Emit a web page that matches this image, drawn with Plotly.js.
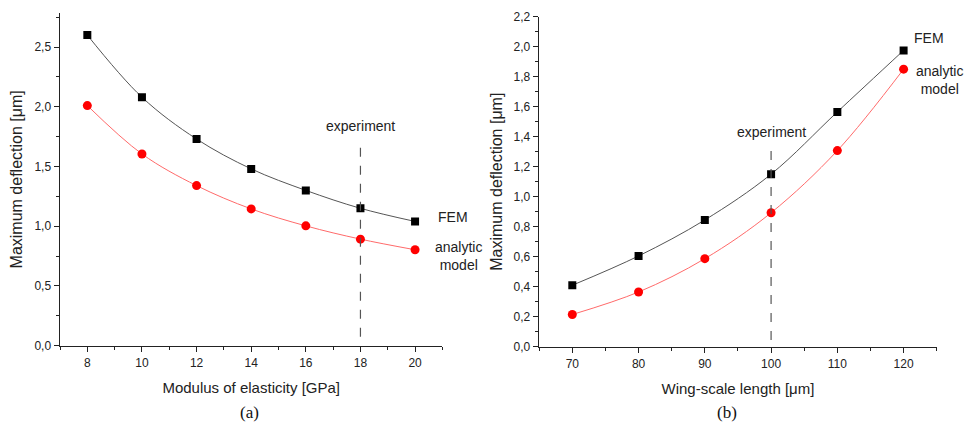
<!DOCTYPE html>
<html>
<head>
<meta charset="utf-8">
<script src="https://cdn.plot.ly/plotly-3.0.1.min.js"></script>
<style>html,body{margin:0;padding:0;background:#fff}#plot{width:968px;height:426px}</style>
</head>
<body>
<div id="plot"></div>
<script>
// Panel (a): deflection vs modulus of elasticity
const modulusGPa = [8, 10, 12, 14, 16, 18, 20];
const femA = [2.60, 2.08, 1.73, 1.48, 1.30, 1.15, 1.04];
const analyticA = [2.01, 1.605, 1.34, 1.145, 1.003, 0.892, 0.803];
const experimentA = 18;

// Panel (b): deflection vs wing-scale length
const lengthUm = [70, 80, 90, 100, 110, 120];
const femB = [0.41, 0.605, 0.845, 1.15, 1.565, 1.975];
const analyticB = [0.215, 0.365, 0.587, 0.893, 1.307, 1.85];
const experimentB = 100;

const txt = '#222';
const fontFam = 'Liberation Sans, Arial, sans-serif';

const femStyle = {mode: 'lines+markers', line: {color: '#555', width: 1, shape: 'spline'},
  marker: {symbol: 'square', size: 8, color: '#000'}, showlegend: false, hoverinfo: 'x+y'};
const anaStyle = {mode: 'lines+markers', line: {color: '#ff6a6a', width: 1, shape: 'spline'},
  marker: {symbol: 'circle', size: 9, color: '#ff0000'}, showlegend: false, hoverinfo: 'x+y'};

const traces = [
  Object.assign({x: modulusGPa, y: femA, name: 'FEM', xaxis: 'x', yaxis: 'y'}, femStyle),
  Object.assign({x: modulusGPa, y: analyticA, name: 'analytic model', xaxis: 'x', yaxis: 'y'}, anaStyle),
  Object.assign({x: lengthUm, y: femB, name: 'FEM', xaxis: 'x2', yaxis: 'y2'}, femStyle),
  Object.assign({x: lengthUm, y: analyticB, name: 'analytic model', xaxis: 'x2', yaxis: 'y2'}, anaStyle)
];

function axisBase() {
  return {showline: true, linecolor: '#222', linewidth: 1.5, ticks: 'outside', ticklen: 5,
    tickwidth: 1, tickcolor: '#222', showgrid: false, zeroline: false,
    tickfont: {family: fontFam, size: 12, color: txt}, mirror: false};
}

function label(x, y, text, font) {
  return {xref: 'paper', yref: 'paper', x: x / 968, y: 1 - y / 426, text: text, showarrow: false,
    xanchor: 'center', yanchor: 'middle', font: font || {size: 14, color: txt}};
}

const serif = {family: 'Liberation Serif, Times New Roman, serif', size: 17, color: '#111'};

const layout = {
  width: 968, height: 426,
  margin: {l: 0, r: 0, t: 0, b: 0, autoexpand: false},
  paper_bgcolor: '#fff', plot_bgcolor: '#fff',
  separators: ',.',
  font: {family: fontFam, color: txt},
  xaxis: Object.assign(axisBase(), {domain: [0.062, 0.457], range: [7, 21], dtick: 2, tick0: 0,
    anchor: 'y', minor: {dtick: 1, ticklen: 3, tickcolor: '#222', ticks: 'outside'},
    title: {text: 'Modulus of elasticity [GPa]', font: {size: 15, color: txt}, standoff: 14}}),
  yaxis: Object.assign(axisBase(), {domain: [0.1885, 0.9695], range: [0, 2.785], dtick: 0.5, tick0: 0,
    tickformat: '.1f', anchor: 'x', minor: {dtick: 0.25, ticklen: 3, tickcolor: '#222', ticks: 'outside'},
    title: {text: 'Maximum deflection [μm]', font: {size: 16, color: txt}, standoff: 8}}),
  xaxis2: Object.assign(axisBase(), {domain: [0.557, 0.9677], range: [65, 125], dtick: 10, tick0: 0,
    anchor: 'y2', minor: {dtick: 5, ticklen: 3, tickcolor: '#222', ticks: 'outside'},
    title: {text: 'Wing-scale length [μm]', font: {size: 15, color: txt}, standoff: 14}}),
  yaxis2: Object.assign(axisBase(), {domain: [0.186, 0.961], range: [0, 2.2], dtick: 0.2, tick0: 0,
    tickformat: '.1f', anchor: 'x2', minor: {dtick: 0.1, ticklen: 3, tickcolor: '#222', ticks: 'outside'},
    title: {text: 'Maximum deflection [μm]', font: {size: 16, color: txt}, standoff: 7}}),
  shapes: [
    {type: 'line', xref: 'x', yref: 'y', x0: experimentA, x1: experimentA, y0: 0.075, y1: 1.71,
      line: {color: '#555', width: 1.2, dash: 'dash'}},
    {type: 'line', xref: 'x2', yref: 'y2', x0: experimentB, x1: experimentB, y0: 0.045, y1: 1.32,
      line: {color: '#555', width: 1.2, dash: 'dash'}}
  ],
  annotations: [
    {xref: 'x', yref: 'y', x: experimentA, y: 1.84, text: 'experiment', showarrow: false,
      xanchor: 'center', yanchor: 'middle', font: {size: 14, color: txt}},
    {xref: 'x2', yref: 'y2', x: experimentB, y: 1.43, text: 'experiment', showarrow: false,
      xanchor: 'center', yanchor: 'middle', font: {size: 14, color: txt}},
    label(453, 217, 'FEM'),
    label(458, 256, 'analytic<br>model'),
    label(929, 38, 'FEM'),
    label(939, 80, 'analytic<br>model'),
    label(250, 412, '(a)', serif),
    label(727, 412, '(b)', serif)
  ]
};

Plotly.newPlot('plot', traces, layout, {displayModeBar: false, staticPlot: true});
</script>
</body>
</html>
